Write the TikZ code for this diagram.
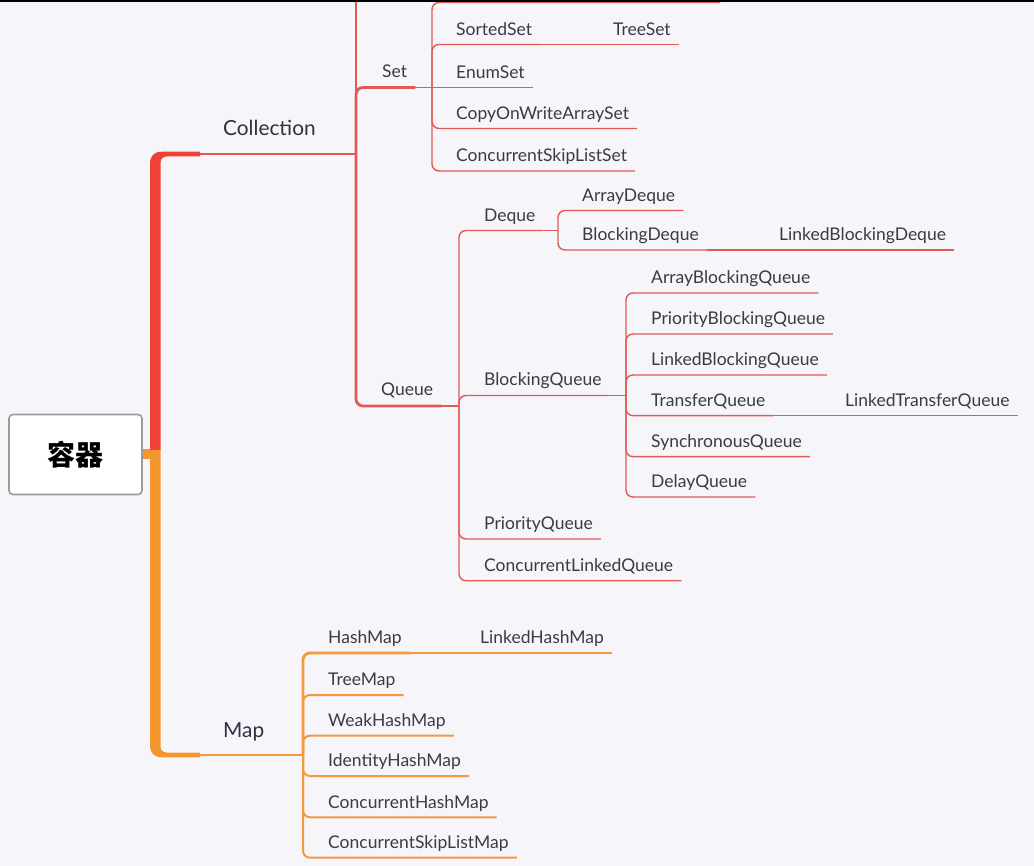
\documentclass[tikz,border=0pt]{standalone}
\usepackage{fontspec}
\setmainfont{Lato}
\newfontfamily\cjk{Noto Sans CJK SC}
\usetikzlibrary{positioning}
\definecolor{PageBG}{HTML}{F5F5FA}
\definecolor{TrunkRed}{HTML}{EF4136}
\definecolor{LineRed}{HTML}{E25A56}
\definecolor{TrunkOrange}{HTML}{F5952E}
\definecolor{LineOrange}{HTML}{F39A3C}
\definecolor{LabelInk}{HTML}{2E3240}
\definecolor{LeafInk}{HTML}{3A3B45}
\definecolor{RootEdge}{HTML}{9B9B9B}

\begin{document}
\begin{tikzpicture}[
  x=1pt,y=-1pt,
  rootbox/.style={
    draw=RootEdge,line width=1.6pt,fill=white,rounded corners=4pt,
    minimum width=133pt,minimum height=80pt,
    font=\cjk\bfseries\fontsize{28}{30}\selectfont
  },
  mainlabel/.style={anchor=base west,inner sep=0pt,text=LabelInk,
    font=\fontsize{20.8}{24}\selectfont},
  leaf/.style={
    anchor=south west,inner xsep=8pt,inner ysep=0pt,
    text height=12pt,text depth=9pt,text=LeafInk,
    font=\fontsize{17.5}{20}\selectfont
  },
  midleaf/.style={leaf,text depth=10pt},
  wire/.style={line width=1.4pt,rounded corners=7pt},
  redwire/.style={wire,draw=LineRed},
  orangewire/.style={wire,draw=LineOrange,line width=2pt},
  thickwire/.style={line width=2.8pt}
]
  \useasboundingbox (0,0) rectangle (1034,866);
  \fill[PageBG] (0,0) rectangle (1034,866);
  \clip (0,0) rectangle (1034,866);

  % root and trunks
  \node[rootbox] (root) at (75.5,454.5) {容器};
  \coordinate (collL) at (200,154);
  \coordinate (mapL) at (200,755);
  \fill[TrunkOrange] (143,449.5) rectangle (152,459.5);
  \fill[TrunkRed] (150,450) -- (150,164) .. controls (150,156) and (154,151.7) .. (162,151.7)
    -- (200,151.7) -- (200,156.5) -- (167,156.5) .. controls (163,156.5) and (160.5,158.5) .. (160.5,163)
    -- (160.5,450) -- cycle;
  \fill[TrunkOrange] (150,450) -- (150,745) .. controls (150,753) and (154,757.3) .. (162,757.3)
    -- (200,757.3) -- (200,752.5) -- (167,752.5) .. controls (163,752.5) and (160.5,750.5) .. (160.5,746)
    -- (160.5,450) -- cycle;

  % Collection
  \node[mainlabel] (coll) at (223,135.7) {Collection};
  \coordinate (collF) at (356,154);
  \coordinate (collTop) at (356,-10);
  \node[midleaf] (set) at (374,87.5) {Set};
  \node[midleaf] (queue) at (373,406) {Queue};
  \coordinate (setF) at (432,87.5);
  \coordinate (queueF) at (459,406);
  \coordinate (setTop) at (720,2.5);

  \node[leaf] (sortedSet) at (448,44.5) {SortedSet};
  \node[leaf] (treeSet) at (605,44.5) {TreeSet};
  \node[leaf] (enumSet) at (448,87.5) {EnumSet};
  \node[leaf] (cowSet) at (448,128.5) {CopyOnWriteArraySet};
  \node[leaf] (cslSet) at (448,171) {ConcurrentSkipListSet};

  \node[leaf] (deque) at (476,230.5) {Deque};
  \coordinate (dequeF) at (558,230.5);
  \node[leaf] (arrayDeque) at (574,210.5) {ArrayDeque};
  \node[leaf] (blockingDeque) at (574,250) {BlockingDeque};
  \node[leaf] (lbDeque) at (771,250) {LinkedBlockingDeque};

  \node[midleaf] (bq) at (476,395.5) {BlockingQueue};
  \coordinate (bqF) at (626,395.5);
  \node[leaf] (abq) at (643,293) {ArrayBlockingQueue};
  \node[leaf] (pbq) at (643,334) {PriorityBlockingQueue};
  \node[leaf] (lbq) at (643,375) {LinkedBlockingQueue};
  \node[leaf] (tq) at (643,415.7) {TransferQueue};
  \node[leaf] (ltq) at (837,415.7) {LinkedTransferQueue};
  \node[leaf] (sq) at (643,456.7) {SynchronousQueue};
  \node[leaf] (dq) at (643,497) {DelayQueue};

  \node[leaf] (pq) at (476,539) {PriorityQueue};
  \node[leaf] (clq) at (476,580.7) {ConcurrentLinkedQueue};

  \draw[redwire,line width=2.5pt] (collL) -- (collF);
  \draw[redwire,line width=2pt] (collF) -- (collTop);
  \draw[redwire,thickwire] (collF) |- (set.south east);
  \draw[redwire,thickwire] (collF) |- (queue.south east);
  \draw[redwire] (set.south east) -- (setF);
  \draw[redwire] (queue.south east) -- (queueF);

  \draw[redwire] (setF) |- (setTop);
  \draw[redwire] (setF) |- (sortedSet.south east);
  \draw[redwire] (sortedSet.south east) -- (treeSet.south east);
  \draw[redwire] (setF) -- (enumSet.south east);
  \draw[redwire] (setF) |- (cowSet.south east);
  \draw[redwire] (setF) |- (cslSet.south east);

  \draw[redwire] (queueF) |- (deque.south east);
  \draw[redwire] (deque.south east) -- (dequeF);
  \draw[redwire] (dequeF) |- (arrayDeque.south east);
  \draw[redwire] (dequeF) |- (blockingDeque.south east);
  \draw[redwire] (blockingDeque.south east) -- (lbDeque.south east);

  \draw[redwire] (queueF) |- (bq.south east);
  \draw[redwire] (bq.south east) -- (bqF);
  \draw[redwire] (bqF) |- (abq.south east);
  \draw[redwire] (bqF) |- (pbq.south east);
  \draw[redwire] (bqF) |- (lbq.south east);
  \draw[redwire] (bqF) |- (tq.south east);
  \draw[redwire] (tq.south east) -- (ltq.south east);
  \draw[redwire] (bqF) |- (sq.south east);
  \draw[redwire] (bqF) |- (dq.south east);
  \draw[redwire] (queueF) |- (pq.south east);
  \draw[redwire] (queueF) |- (clq.south east);

  % Map
  \node[mainlabel] (map) at (223,737.3) {Map};
  \coordinate (mapF) at (303,755);
  \node[leaf] (hashMap) at (320,653) {HashMap};
  \node[leaf] (lhm) at (472,653) {LinkedHashMap};
  \node[leaf] (treeMap) at (320,695) {TreeMap};
  \node[leaf] (weakMap) at (320,735.7) {WeakHashMap};
  \node[leaf] (idMap) at (320,776) {IdentityHashMap};
  \node[leaf] (chm) at (320,817.3) {ConcurrentHashMap};
  \node[leaf] (cslMap) at (320,857.7) {ConcurrentSkipListMap};

  \draw[orangewire,line width=2.5pt] (mapL) -- (mapF);
  \draw[orangewire,line width=2.8pt] (mapF) |- (hashMap.south east);
  \draw[orangewire] (hashMap.south east) -- (lhm.south east);
  \draw[orangewire] (mapF) |- (treeMap.south east);
  \draw[orangewire] (mapF) |- (weakMap.south east);
  \draw[orangewire] (mapF) |- (idMap.south east);
  \draw[orangewire] (mapF) |- (chm.south east);
  \draw[orangewire] (mapF) |- (cslMap.south east);

  % screen edge
  \fill[black] (0,0) rectangle (1034,2.5);
\end{tikzpicture}
\end{document}
